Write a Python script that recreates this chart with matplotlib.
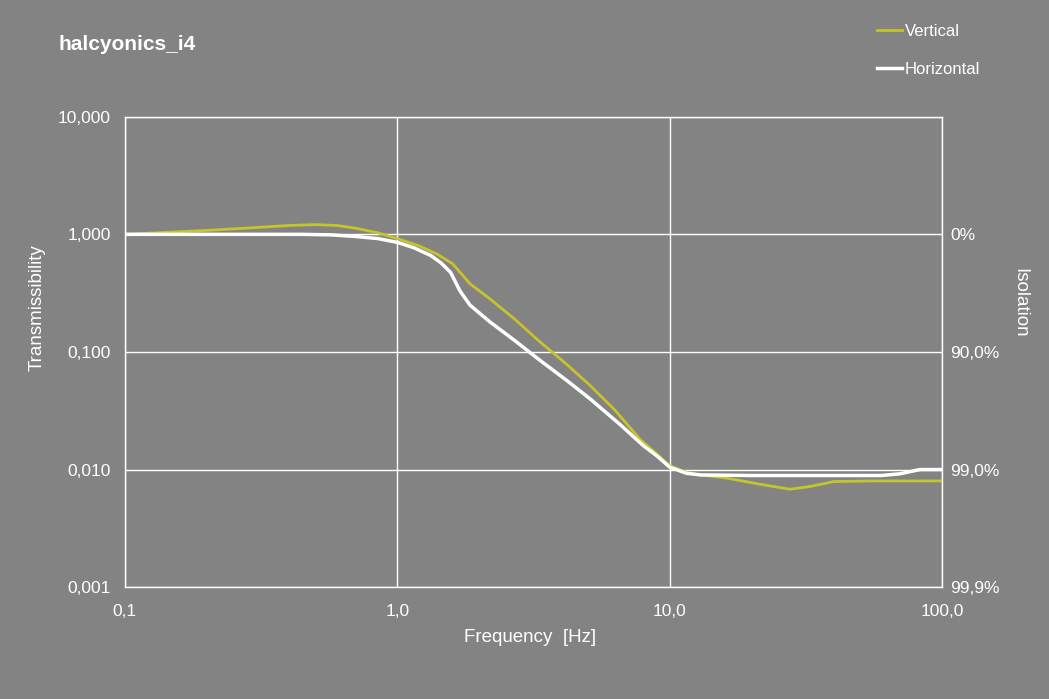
import numpy as np
import matplotlib.pyplot as plt
from matplotlib.ticker import FixedLocator, NullLocator

plt.rcParams['font.family'] = ['Liberation Sans', 'DejaVu Sans']

# frequency [Hz] and transmissibility
freq_v = [0.1, 0.2, 0.3, 0.4, 0.5, 0.6, 0.7, 0.85, 1.0, 1.2, 1.4, 1.6, 1.85, 2.2, 2.7,
          3.3, 4.2, 5.1, 6.3, 7.8, 9.0, 10.0, 11.5, 13.0, 16.0, 21.5, 27.7, 33.0, 40.0, 55.0, 100.0]
trans_v = [1.0, 1.08, 1.14, 1.19, 1.21, 1.19, 1.13, 1.03, 0.92, 0.80, 0.68, 0.56, 0.38, 0.28, 0.19,
           0.125, 0.078, 0.052, 0.032, 0.018, 0.0135, 0.0108, 0.0095, 0.009, 0.0085, 0.0075, 0.0068,
           0.0072, 0.0079, 0.008, 0.008]

freq_h = [0.1, 0.2, 0.3, 0.45, 0.57, 0.7, 0.85, 1.0, 1.15, 1.33, 1.45, 1.57, 1.7, 1.85, 2.19,
          2.7, 3.34, 4.2, 5.1, 6.6, 8.0, 9.0, 10.0, 11.5, 13.0, 20.0, 40.0, 60.0, 70.0, 83.0, 100.0]
trans_h = [1.0, 1.0, 1.0, 1.0, 0.99, 0.96, 0.92, 0.855, 0.77, 0.66, 0.57, 0.475, 0.33, 0.25, 0.18,
           0.125, 0.085, 0.057, 0.04, 0.024, 0.016, 0.013, 0.0105, 0.0093, 0.009, 0.0089, 0.0089,
           0.0089, 0.0092, 0.01, 0.01]

y_ticks = [0.001, 0.01, 0.1, 1, 10]
y_labels = ['0,001', '0,010', '0,100', '1,000', '10,000']
iso_labels = ['99,9%', '99,0%', '90,0%', '0%', '']
x_ticks = [0.1, 1, 10, 100]
x_labels = ['0,1', '1,0', '10,0', '100,0']

bg = '#838383'
fig = plt.figure(figsize=(10.49, 6.99), dpi=100, facecolor=bg)
ax = fig.add_axes([0.119, 0.160, 0.779, 0.673], facecolor=bg)

ax.plot(freq_v, trans_v, color='#c4c42c', lw=2, label='Vertical')
ax.plot(freq_h, trans_h, color='white', lw=2.5, label='Horizontal')

ax.set_xscale('log')
ax.set_yscale('log')
ax.set_xlim(0.1, 100)
ax.set_ylim(0.001, 10)
ax.xaxis.set_major_locator(FixedLocator(x_ticks))
ax.xaxis.set_minor_locator(NullLocator())
ax.yaxis.set_major_locator(FixedLocator(y_ticks))
ax.yaxis.set_minor_locator(NullLocator())
ax.set_xticklabels(x_labels)
ax.set_yticklabels(y_labels)
ax.grid(True, color='white', lw=1)
ax.tick_params(axis='y', length=0, colors='white', labelsize=12.5, pad=10)
ax.tick_params(axis='x', length=0, colors='white', labelsize=12.5, pad=12)
for s in ax.spines.values():
    s.set_color('white')
    s.set_linewidth(1)

ax2 = ax.twinx()
ax2.set_yscale('log')
ax2.set_ylim(0.001, 10)
ax2.yaxis.set_major_locator(FixedLocator(y_ticks))
ax2.yaxis.set_minor_locator(NullLocator())
ax2.set_yticklabels(iso_labels)
ax2.tick_params(length=0, colors='white', labelsize=12.5, pad=6)
for s in ax2.spines.values():
    s.set_visible(False)

fig.text(530 / 1049, 1 - 638 / 699, 'Frequency  [Hz]', color='white', fontsize=13.5,
         ha='center', va='center')
fig.text(37 / 1049, 1 - 308 / 699, 'Transmissibility', color='white', fontsize=13.5,
         rotation=90, ha='center', va='center')
fig.text(1020 / 1049, 1 - 303 / 699, 'Isolation', color='white', fontsize=13.5,
         rotation=-90, ha='center', va='center')
fig.text(58 / 1049, 1 - 45 / 699, 'halcyonics_i4', color='white', fontsize=15,
         fontweight='bold', va='center')

h, l = ax.get_legend_handles_labels()
fig.legend(h, l, loc='upper left', bbox_to_anchor=(0.830, 0.975), frameon=False,
           labelcolor='white', fontsize=12, handlelength=1.5, handletextpad=0.15,
           labelspacing=1.35, borderaxespad=0)

fig.savefig('out.png', dpi=100, facecolor=bg)
